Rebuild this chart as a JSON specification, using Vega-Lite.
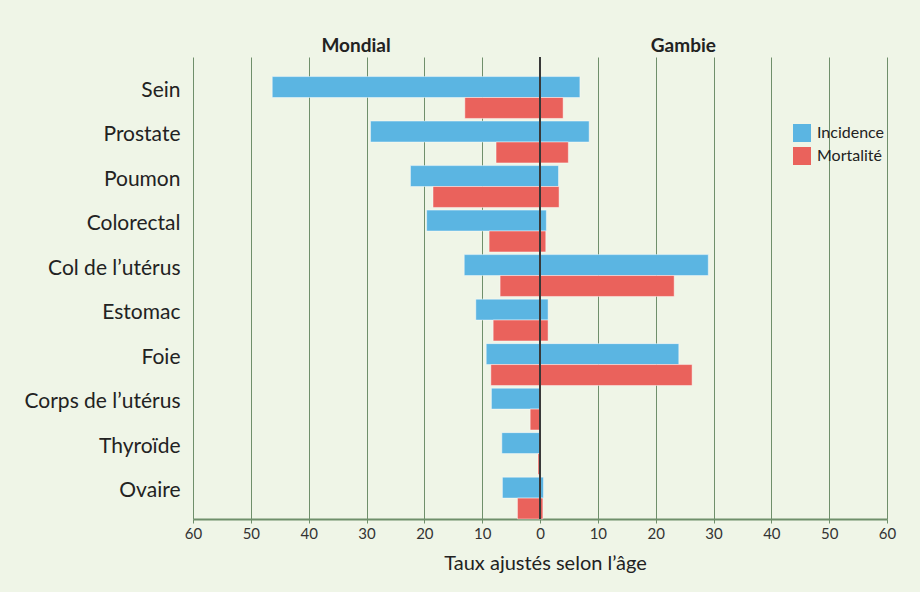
{
  "$schema": "https://vega.github.io/schema/vega-lite/v6.json",
  "width": 694,
  "height": 462,
  "autosize": {"type": "none"},
  "padding": {"left": 193, "top": 57, "right": 33, "bottom": 73},
  "background": "#eff5e7",
  "config": {
    "font": "Lato",
    "view": {"stroke": null}
  },
  "data": {
    "values": [
      {"cancer": "Sein", "zone": "Mondial", "mesure": "Incidence", "valeur": -46.3},
      {"cancer": "Sein", "zone": "Gambie", "mesure": "Incidence", "valeur": 6.9},
      {"cancer": "Sein", "zone": "Mondial", "mesure": "Mortalité", "valeur": -13.0},
      {"cancer": "Sein", "zone": "Gambie", "mesure": "Mortalité", "valeur": 4.0},
      {"cancer": "Prostate", "zone": "Mondial", "mesure": "Incidence", "valeur": -29.3},
      {"cancer": "Prostate", "zone": "Gambie", "mesure": "Incidence", "valeur": 8.5},
      {"cancer": "Prostate", "zone": "Mondial", "mesure": "Mortalité", "valeur": -7.6},
      {"cancer": "Prostate", "zone": "Gambie", "mesure": "Mortalité", "valeur": 4.9},
      {"cancer": "Poumon", "zone": "Mondial", "mesure": "Incidence", "valeur": -22.4},
      {"cancer": "Poumon", "zone": "Gambie", "mesure": "Incidence", "valeur": 3.2},
      {"cancer": "Poumon", "zone": "Mondial", "mesure": "Mortalité", "valeur": -18.5},
      {"cancer": "Poumon", "zone": "Gambie", "mesure": "Mortalité", "valeur": 3.3},
      {"cancer": "Colorectal", "zone": "Mondial", "mesure": "Incidence", "valeur": -19.6},
      {"cancer": "Colorectal", "zone": "Gambie", "mesure": "Incidence", "valeur": 1.1},
      {"cancer": "Colorectal", "zone": "Mondial", "mesure": "Mortalité", "valeur": -8.8},
      {"cancer": "Colorectal", "zone": "Gambie", "mesure": "Mortalité", "valeur": 1.0},
      {"cancer": "Col de l’utérus", "zone": "Mondial", "mesure": "Incidence", "valeur": -13.1},
      {"cancer": "Col de l’utérus", "zone": "Gambie", "mesure": "Incidence", "valeur": 29.1},
      {"cancer": "Col de l’utérus", "zone": "Mondial", "mesure": "Mortalité", "valeur": -6.9},
      {"cancer": "Col de l’utérus", "zone": "Gambie", "mesure": "Mortalité", "valeur": 23.2},
      {"cancer": "Estomac", "zone": "Mondial", "mesure": "Incidence", "valeur": -11.1},
      {"cancer": "Estomac", "zone": "Gambie", "mesure": "Incidence", "valeur": 1.4},
      {"cancer": "Estomac", "zone": "Mondial", "mesure": "Mortalité", "valeur": -8.1},
      {"cancer": "Estomac", "zone": "Gambie", "mesure": "Mortalité", "valeur": 1.4},
      {"cancer": "Foie", "zone": "Mondial", "mesure": "Incidence", "valeur": -9.3},
      {"cancer": "Foie", "zone": "Gambie", "mesure": "Incidence", "valeur": 24.0},
      {"cancer": "Foie", "zone": "Mondial", "mesure": "Mortalité", "valeur": -8.5},
      {"cancer": "Foie", "zone": "Gambie", "mesure": "Mortalité", "valeur": 26.3},
      {"cancer": "Corps de l’utérus", "zone": "Mondial", "mesure": "Incidence", "valeur": -8.4},
      {"cancer": "Corps de l’utérus", "zone": "Gambie", "mesure": "Incidence", "valeur": 0.1},
      {"cancer": "Corps de l’utérus", "zone": "Mondial", "mesure": "Mortalité", "valeur": -1.7},
      {"cancer": "Corps de l’utérus", "zone": "Gambie", "mesure": "Mortalité", "valeur": 0},
      {"cancer": "Thyroïde", "zone": "Mondial", "mesure": "Incidence", "valeur": -6.6},
      {"cancer": "Thyroïde", "zone": "Gambie", "mesure": "Incidence", "valeur": 0},
      {"cancer": "Thyroïde", "zone": "Mondial", "mesure": "Mortalité", "valeur": -0.35},
      {"cancer": "Thyroïde", "zone": "Gambie", "mesure": "Mortalité", "valeur": 0},
      {"cancer": "Ovaire", "zone": "Mondial", "mesure": "Incidence", "valeur": -6.5},
      {"cancer": "Ovaire", "zone": "Gambie", "mesure": "Incidence", "valeur": 0.6},
      {"cancer": "Ovaire", "zone": "Mondial", "mesure": "Mortalité", "valeur": -3.9},
      {"cancer": "Ovaire", "zone": "Gambie", "mesure": "Mortalité", "valeur": 0.5}
    ]
  },
  "resolve": {"axis": {"x": "independent"}},
  "layer": [
    {
      "mark": {"type": "bar", "stroke": "#ffffff", "strokeOpacity": 0.45, "strokeWidth": 1},
      "encoding": {
        "y": {
          "field": "cancer",
          "type": "nominal",
          "sort": null,
          "scale": {"paddingInner": 0.06, "paddingOuter": 0.22, "align": 1},
          "axis": {
            "title": null,
            "domain": false,
            "ticks": false,
            "grid": false,
            "labelPadding": 13,
            "labelFontSize": 21,
            "labelColor": "#222222",
            "labelOffset": -7
          }
        },
        "yOffset": {
          "field": "mesure",
          "type": "nominal",
          "sort": ["Incidence", "Mortalité"],
          "scale": {"paddingInner": 0, "paddingOuter": 0}
        },
        "x": {
          "field": "valeur",
          "type": "quantitative",
          "scale": {"domain": [-60, 60], "nice": false},
          "axis": {
            "orient": "bottom",
            "title": "Taux ajustés selon l’âge",
            "values": [-60, -50, -40, -30, -20, -10, 0, 10, 20, 30, 40, 50, 60],
            "labelExpr": "abs(datum.value)",
            "labelFlush": false,
            "labelOverlap": false,
            "grid": true,
            "gridColor": "#6f8f6b",
            "gridOpacity": 1,
            "gridWidth": 1,
            "domainColor": "#6f8f6b",
            "domainWidth": 2,
            "tickColor": "#6f8f6b",
            "tickSize": 4,
            "labelFontSize": 15,
            "labelColor": "#333333",
            "labelPadding": 3,
            "titleFontSize": 20,
            "titleFontWeight": "normal",
            "titleColor": "#222222",
            "titlePadding": 12,
            "titleX": 352
          }
        },
        "color": {
          "field": "mesure",
          "type": "nominal",
          "scale": {"domain": ["Incidence", "Mortalité"], "range": ["#5bb5e2", "#ea625c"]},
          "legend": {
            "orient": "none",
            "legendX": 600,
            "legendY": 67,
            "title": null,
            "symbolType": "square",
            "symbolSize": 324,
            "symbolStrokeWidth": 0,
            "labelFontSize": 16,
            "labelColor": "#222222",
            "labelOffset": 6,
            "rowPadding": 5
          }
        }
      }
    },
    {
      "mark": {"type": "rule", "color": "#3a3a3a", "strokeWidth": 1.2},
      "encoding": {
        "x": {
          "datum": 0,
          "type": "quantitative",
          "axis": {
            "orient": "top",
            "title": null,
            "values": [-31.9, 24.7],
            "labelExpr": "datum.value < 0 ? 'Mondial' : 'Gambie'",
            "labelFlush": false,
            "domain": false,
            "ticks": false,
            "grid": false,
            "labelFontSize": 19,
            "labelFontWeight": "bold",
            "labelColor": "#222222",
            "labelBaseline": "alphabetic",
            "labelPadding": 6
          }
        }
      }
    }
  ]
}
